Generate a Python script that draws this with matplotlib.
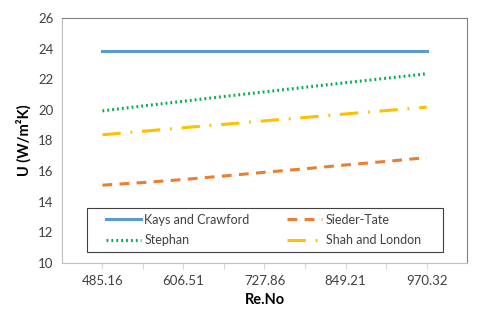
import matplotlib
matplotlib.use('Agg')
import matplotlib.pyplot as plt
from matplotlib.patches import Rectangle

# Reynolds number categories (labels shown on every second tick)
re_no = ['485.16', '545.84', '606.51', '667.19', '727.86',
         '788.54', '849.21', '909.77', '970.32']

kays_crawford = [23.87, 23.87, 23.87, 23.87, 23.87, 23.87, 23.87, 23.87, 23.87]
sieder_tate = [15.08, 15.25, 15.45, 15.68, 15.92, 16.15, 16.40, 16.63, 16.88]
stephan = [19.93, 20.25, 20.56, 20.87, 21.17, 21.47, 21.77, 22.06, 22.35]
shah_london = [18.37, 18.60, 18.83, 19.05, 19.28, 19.50, 19.73, 19.95, 20.17]

plt.rcParams['font.family'] = ['Lato', 'DejaVu Sans']

fig = plt.figure(figsize=(4.8, 3.09), dpi=100)
ax = fig.add_axes([0.129, 0.149, 0.844, 0.793])

x = list(range(len(re_no)))
lw = 2.2
l1, = ax.plot(x, kays_crawford, color='#5B9BD5', lw=lw, label='Kays and Crawford')
l2, = ax.plot(x, sieder_tate, color='#ED7D31', lw=lw, ls=(0, (3.2, 2.4)), label='Sieder-Tate')
l3, = ax.plot(x, stephan, color='#00B050', lw=lw, ls=(0, (0.6, 1.0)), label='Stephan')
l4, = ax.plot(x, shah_london, color='#FFC000', lw=lw, ls=(0, (6, 3.2, 0.6, 3.2)),
              label='Shah and London')

ax.set_xlim(-1, 9)
ax.set_ylim(10, 26)
ax.set_yticks(range(10, 27, 2))
ax.set_xticks(x)
ax.set_xticklabels([lab if i % 2 == 0 else '' for i, lab in enumerate(re_no)])
ax.tick_params(axis='x', length=4, colors='#D9D9D9', labelcolor='#404040',
               labelsize=9.5, pad=5)
ax.tick_params(axis='y', length=0, labelsize=9.5, labelcolor='#404040', pad=6)

for s in ['left', 'bottom']:
    ax.spines[s].set_color('#BFBFBF')
for s in ['top', 'right']:
    ax.spines[s].set_color('#808080')

ax.set_xlabel('Re.No', fontsize=10.5, fontweight='bold', labelpad=4)
ax.set_ylabel('U (W/m²K)', fontsize=10.5, fontweight='bold', labelpad=5)

# legend box drawn separately so the entries can sit inset like in Excel
ax.add_patch(Rectangle((0.062, 0.045), 0.879, 0.18, transform=ax.transAxes,
                       fill=True, facecolor='white', edgecolor='#404040',
                       lw=0.8, zorder=4))
leg = ax.legend([l1, l3, l2, l4],
                [l1.get_label(), l3.get_label(), l2.get_label(), l4.get_label()],
                loc='center left', bbox_to_anchor=(0.108, 0.135), ncol=2,
                fontsize=9, frameon=False, handlelength=2.8, handletextpad=0.3,
                columnspacing=3.0, borderpad=0, borderaxespad=0,
                labelspacing=0.65, labelcolor='#404040')
leg.set_zorder(5)

fig.savefig('out.png', dpi=100)
